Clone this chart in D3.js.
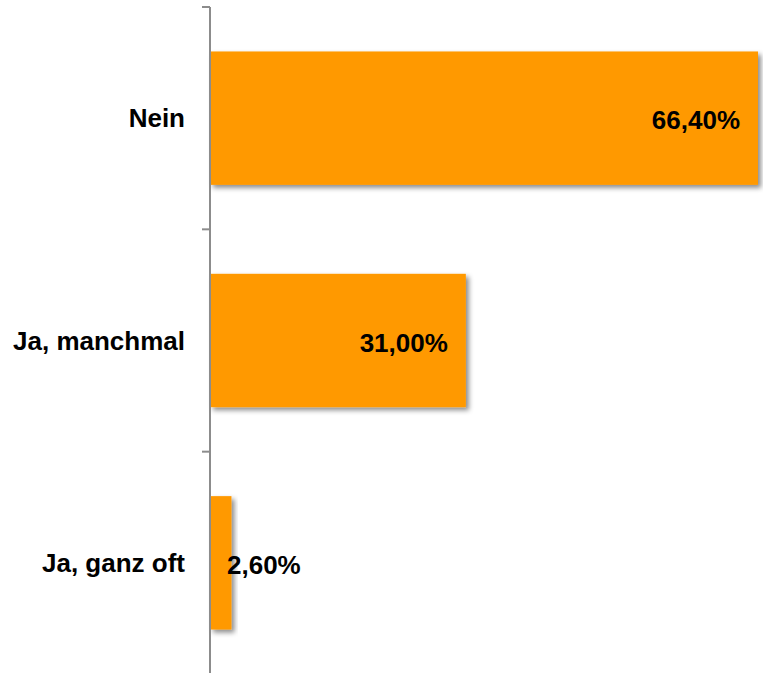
<!DOCTYPE html>
<html>
<head>
  <meta charset="utf-8">
  <script src="https://d3js.org/d3.v7.min.js"></script>
  <style>
    body { margin: 0; background: #fff; }
    svg { display: block; }
    .cat, .val {
      font-family: "Liberation Sans", Arial, sans-serif;
      font-weight: bold;
      font-size: 26px;
      fill: #000;
    }
  </style>
</head>
<body>
<script>
  // data
  var categories = ['Nein', 'Ja, manchmal', 'Ja, ganz oft'];
  var values = [66.4, 31.0, 2.6];
  var valueLabels = ['66,40%', '31,00%', '2,60%'];

  var width = 763, height = 673;
  var x0 = 210;

  var svg = d3.select('body').append('svg')
    .attr('width', width)
    .attr('height', height);

  var defs = svg.append('defs');
  var f = defs.append('filter').attr('id', 'shadow')
    .attr('x', '-20%').attr('y', '-20%').attr('width', '150%').attr('height', '150%');
  f.append('feDropShadow')
    .attr('dx', 3).attr('dy', 3)
    .attr('stdDeviation', 2.5)
    .attr('flood-color', '#000')
    .attr('flood-opacity', 0.45);

  var x = d3.scaleLinear()
    .domain([0, d3.max(values)])
    .range([x0, 758]);

  var y = d3.scaleBand()
    .domain(categories)
    .range([7, 674])
    .paddingInner(0.4)
    .paddingOuter(0.2);

  var rows = categories.map(function(c, i) {
    return { cat: c, val: values[i], label: valueLabels[i] };
  });

  svg.selectAll('rect.bar')
    .data(rows)
    .enter().append('rect')
    .attr('class', 'bar')
    .attr('x', x(0))
    .attr('y', function(d) { return y(d.cat); })
    .attr('width', function(d) { return x(d.val) - x(0); })
    .attr('height', y.bandwidth())
    .attr('fill', '#ff9900')
    .attr('filter', 'url(#shadow)');

  // axis: vertical line with ticks between the categories
  var step = y.step();
  var tickYs = d3.range(categories.length + 1).map(function(i) {
    return y.range()[0] + i * step;
  });
  var axis = svg.append('g');
  axis.append('line')
    .attr('x1', x0).attr('x2', x0)
    .attr('y1', tickYs[0]).attr('y2', height)
    .attr('stroke', '#8c8c8c')
    .attr('stroke-width', 2);
  axis.selectAll('line.tick')
    .data(tickYs)
    .enter().append('line')
    .attr('class', 'tick')
    .attr('x1', x0 - 8).attr('x2', x0)
    .attr('y1', function(d) { return d; })
    .attr('y2', function(d) { return d; })
    .attr('stroke', '#8c8c8c')
    .attr('stroke-width', 2);

  svg.selectAll('text.cat')
    .data(rows)
    .enter().append('text')
    .attr('class', 'cat')
    .attr('x', 185)
    .attr('y', function(d) { return y(d.cat) + y.bandwidth() / 2; })
    .attr('dy', '0.35em')
    .attr('text-anchor', 'end')
    .text(function(d) { return d.cat; });

  svg.selectAll('text.val')
    .data(rows)
    .enter().append('text')
    .attr('class', 'val')
    .attr('y', function(d) { return y(d.cat) + y.bandwidth() / 2 + 2; })
    .attr('dy', '0.35em')
    .attr('text-anchor', 'start')
    .text(function(d) { return d.label; })
    .attr('x', function(d) {
      var w = this.getComputedTextLength();
      return Math.max(x(d.val) - 18 - w, x0 + 17);
    });
</script>
</body>
</html>
